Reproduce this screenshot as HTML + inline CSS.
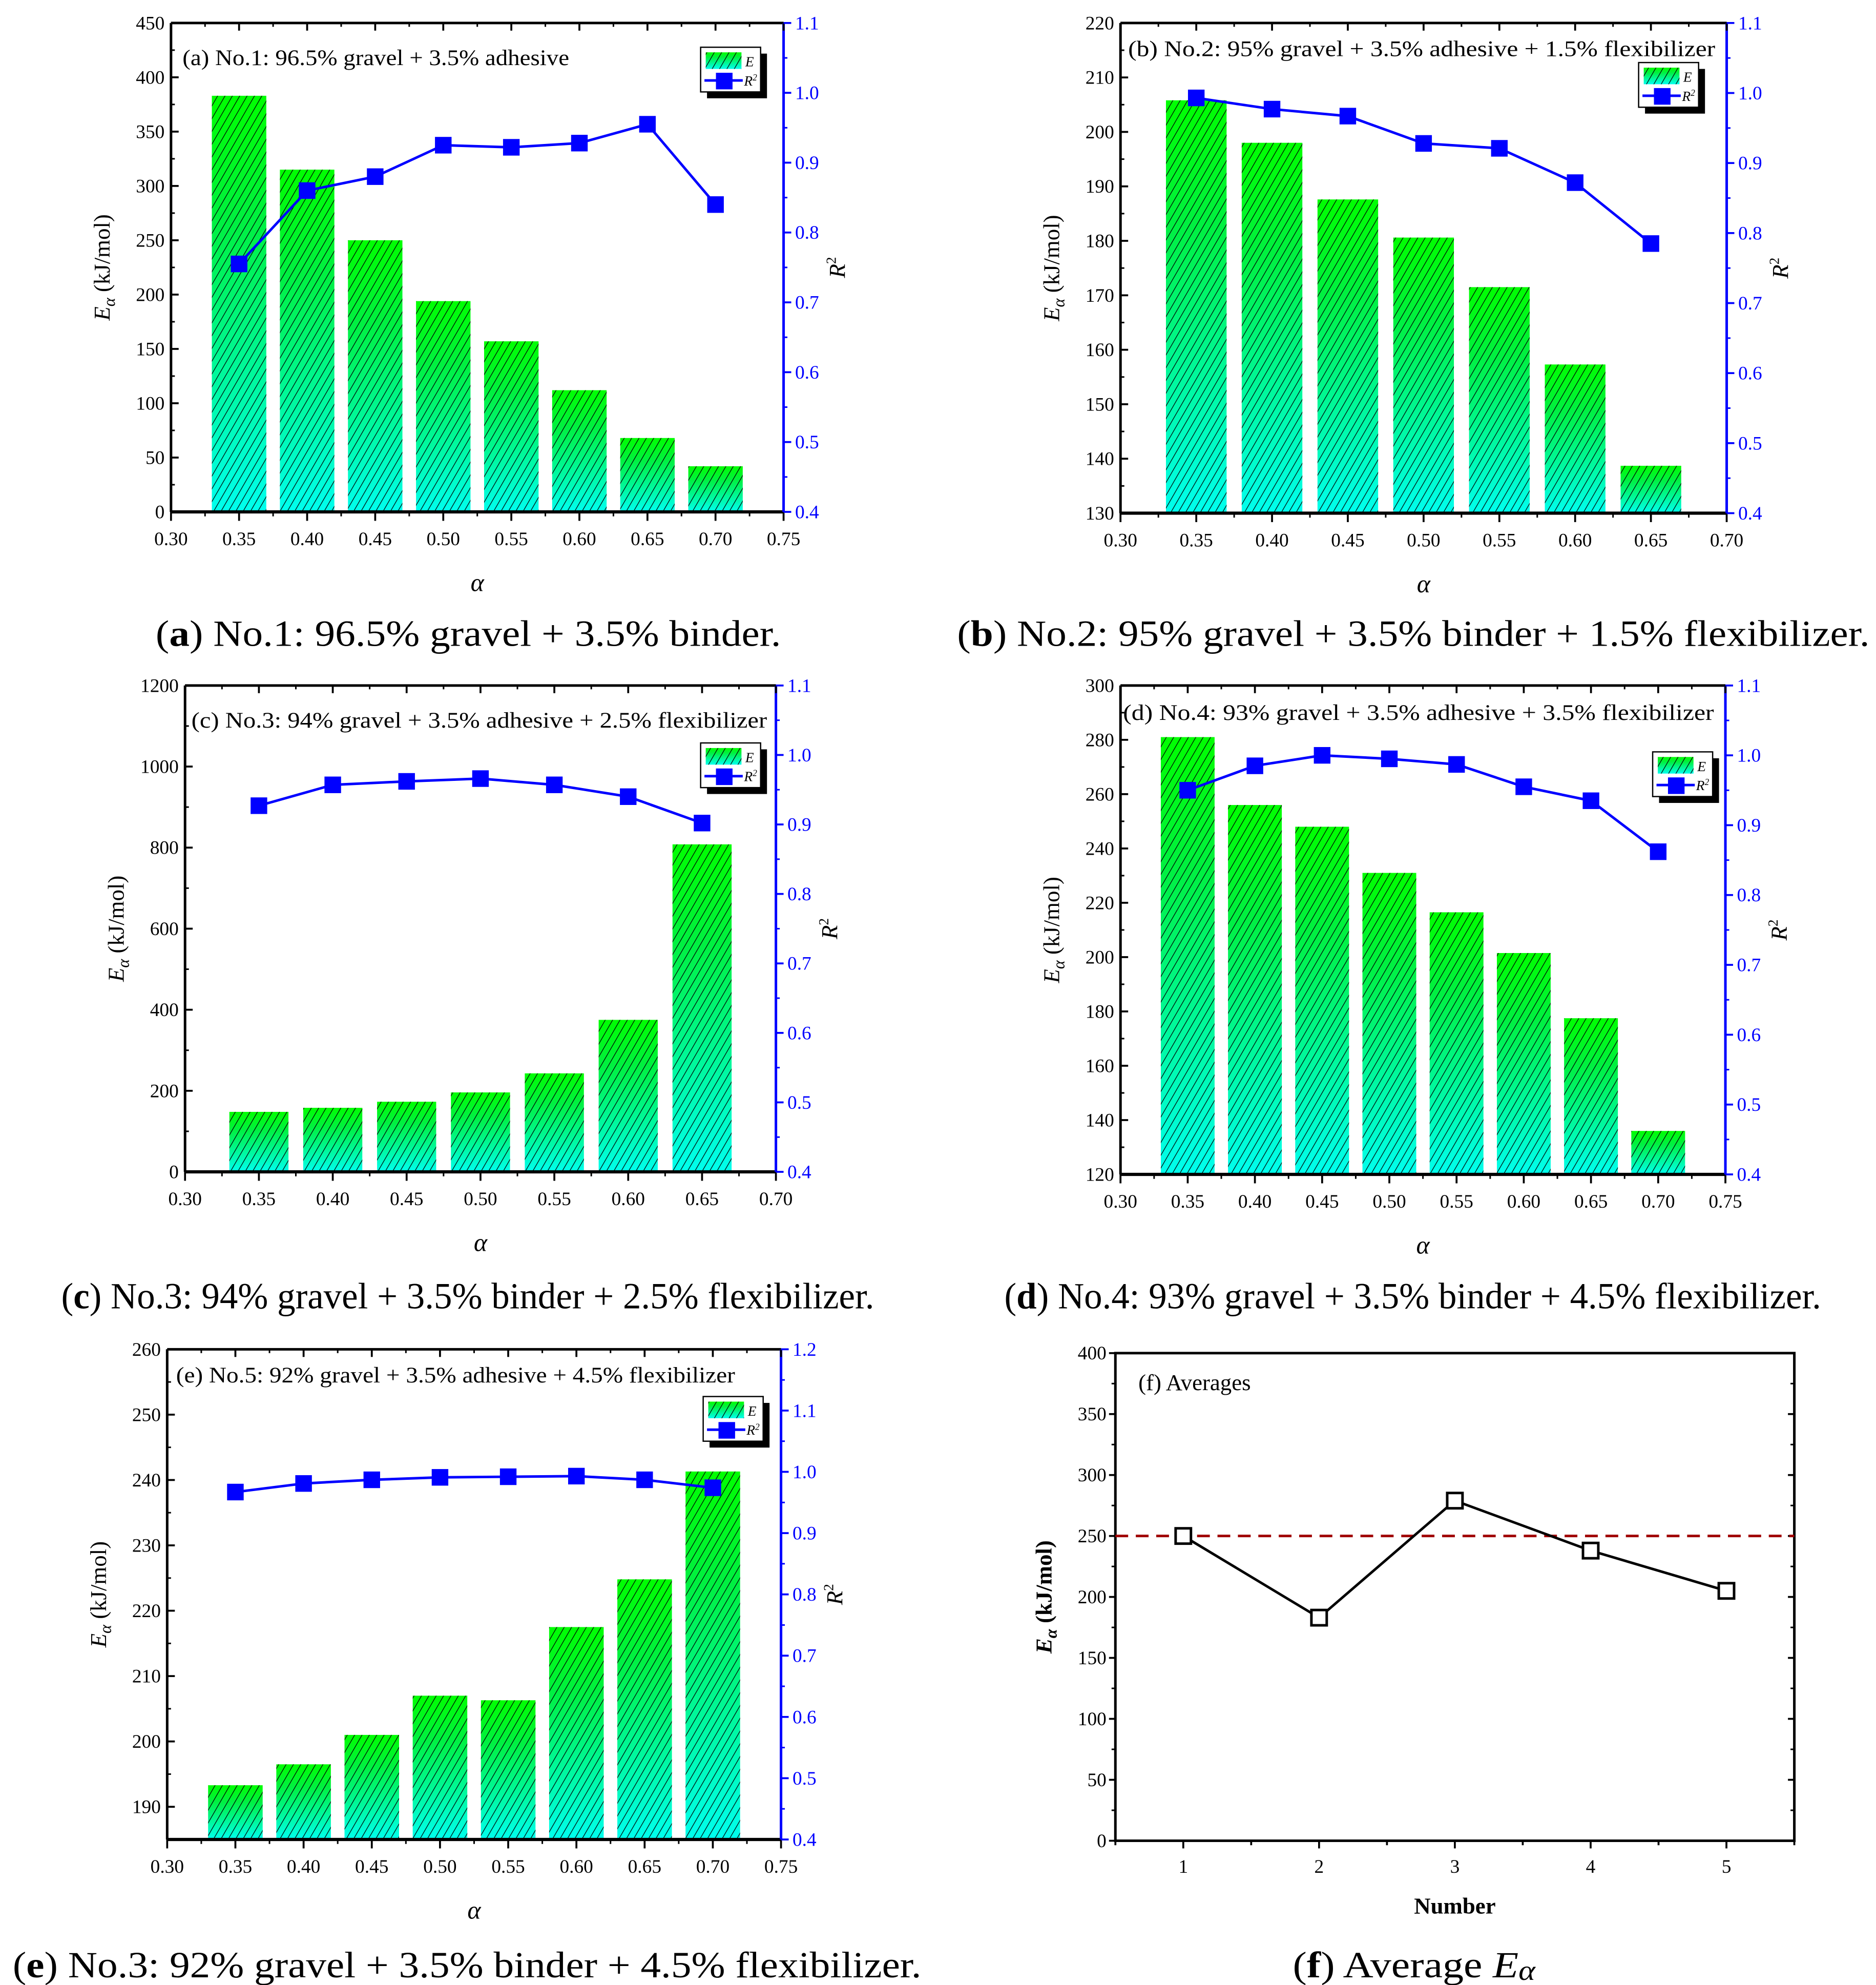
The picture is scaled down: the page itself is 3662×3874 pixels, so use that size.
<!DOCTYPE html>
<html><head><meta charset="utf-8"><style>
html,body{margin:0;padding:0;background:#fff}
svg{display:block}
text{font-family:"Liberation Serif",serif}
</style></head><body>
<svg id="fig" xmlns="http://www.w3.org/2000/svg" width="3662" height="3874" viewBox="0 0 1470 1555" preserveAspectRatio="none">
<defs>
<linearGradient id="bargrad" x1="0" y1="0" x2="0" y2="1">
<stop offset="0" stop-color="#00ff00"/><stop offset="0.3" stop-color="#00f040"/><stop offset="1" stop-color="#00ffee"/>
</linearGradient>
<pattern id="hatch" patternUnits="userSpaceOnUse" width="5" height="5" patternTransform="rotate(30)">
<line x1="0" y1="0" x2="0" y2="5" stroke="#000" stroke-width="1"/>
</pattern>
</defs>
</svg>
<script>
// ---- data ----
const alphaA=[0.35,0.40,0.45,0.50,0.55,0.60,0.65,0.70];
const eA=[383,315,250,194,157,112,68,42];
const r2A=[0.755,0.86,0.88,0.925,0.922,0.928,0.955,0.84];
const alphaB=[0.35,0.40,0.45,0.50,0.55,0.60,0.65];
const eB=[205.8,198,187.6,180.6,171.5,157.3,138.7];
const r2B=[0.993,0.977,0.967,0.928,0.921,0.872,0.785];
const alphaC=[0.35,0.40,0.45,0.50,0.55,0.60,0.65];
const eC=[148,158,173,196,243,375,808];
const r2C=[0.927,0.957,0.962,0.966,0.957,0.94,0.902];
const alphaD=[0.35,0.40,0.45,0.50,0.55,0.60,0.65,0.70];
const eD=[281,256,248,231,216.5,201.5,177.5,136];
const r2D=[0.95,0.985,1.0,0.995,0.987,0.955,0.935,0.862];
const alphaE=[0.35,0.40,0.45,0.50,0.55,0.60,0.65,0.70];
const eE=[193.3,196.5,201,207,206.3,217.5,224.8,241.3];
const r2E=[0.967,0.981,0.987,0.991,0.992,0.993,0.987,0.974];
const numF=[1,2,3,4,5];
const avgF=[250,183,279,238,205];
const meanF=[250];

const svg=document.getElementById('fig');
const NS='http://www.w3.org/2000/svg';
function el(tag,attrs,parent){const e=document.createElementNS(NS,tag);for(const k in attrs)e.setAttribute(k,attrs[k]);(parent||svg).appendChild(e);return e;}
function txt(s,attrs,parent){const e=el('text',attrs,parent);e.textContent=s;return e;}
function fmt(v,d){return v.toFixed(d);}

function barPanel(o){
  const g=el('g',{});
  
  
  const X=v=>o.L+(v-o.x0)/(o.x1-o.x0)*(o.R-o.L);
  const Y=v=>o.B-(v-o.y0)/(o.y1-o.y0)*(o.B-o.T);
  const Y2=v=>o.B-(v-o.r0)/(o.r1-o.r0)*(o.B-o.T);
  o.xs.forEach((a,i)=>{
    const x=X(a-0.02),w=X(a+0.02)-X(a-0.02),y=Y(o.e[i]),h=o.B-y;
    const r=el('rect',{x:x,y:y,width:w,height:h,fill:'url(#bargrad)'},g);
    
    
    el('rect',{x:x,y:y,width:w,height:h,fill:'url(#hatch)'},g);
  });
  el('line',{x1:o.L,y1:o.T,x2:o.R,y2:o.T,stroke:'#000','stroke-width':2},g);
  el('line',{x1:o.L,y1:o.B,x2:o.R,y2:o.B,stroke:'#000','stroke-width':2.5},g);
  el('line',{x1:o.L,y1:o.T,x2:o.L,y2:o.B,stroke:'#000','stroke-width':2},g);
  el('line',{x1:o.R,y1:o.T,x2:o.R,y2:o.B,stroke:'#00f','stroke-width':2},g);
  for(let v=o.x0;v<=o.x1+1e-9;v+=0.05){
    const x=X(v);
    el('line',{x1:x,y1:o.B,x2:x,y2:o.B+7,stroke:'#000','stroke-width':1.5},g);
    el('line',{x1:x,y1:o.T,x2:x,y2:o.T+6,stroke:'#000','stroke-width':1.5},g);
    if(v+0.025<o.x1){const xm=X(v+0.025);
      el('line',{x1:xm,y1:o.B,x2:xm,y2:o.B+3.5,stroke:'#000','stroke-width':1.2},g);
      el('line',{x1:xm,y1:o.T,x2:xm,y2:o.T+3,stroke:'#000','stroke-width':1.2},g);}
    txt(fmt(v,2),{x:x,y:o.B+26,'font-size':15,'text-anchor':'middle'},g);
  }
  for(let v=o.y0t;v<=o.y1+1e-9;v+=o.ys){
    const y=Y(v);
    el('line',{x1:o.L,y1:y,x2:o.L+6,y2:y,stroke:'#000','stroke-width':1.5},g);
    if(v+o.ys/2<o.y1){const ym=Y(v+o.ys/2);el('line',{x1:o.L,y1:ym,x2:o.L+3,y2:ym,stroke:'#000','stroke-width':1.2},g);}
    txt(String(Math.round(v)),{x:o.L-5,y:y+5,'font-size':15,'text-anchor':'end'},g);
  }
  if(o.y0t>o.y0){const ym=Y(o.y0t-o.ys/2);if(ym<o.B)el('line',{x1:o.L,y1:ym,x2:o.L+3,y2:ym,stroke:'#000','stroke-width':1.2},g);}
  for(let v=o.r0;v<=o.r1+1e-9;v+=0.1){
    const y=Y2(v);
    el('line',{x1:o.R,y1:y,x2:o.R+6,y2:y,stroke:'#00f','stroke-width':1.5},g);
    if(v+0.05<o.r1){const ym=Y2(v+0.05);el('line',{x1:o.R,y1:ym,x2:o.R+3,y2:ym,stroke:'#00f','stroke-width':1.2},g);}
    txt(fmt(v,1),{x:o.R+9,y:y+5,'font-size':15,fill:'#00f'},g);
  }
  const pts=o.xs.map((a,i)=>X(a)+','+Y2(o.r2[i])).join(' ');
  const pl=el('polyline',{points:pts,fill:'none',stroke:'#00f','stroke-width':2},g);
  
  
  o.xs.forEach((a,i)=>{
    const m=el('rect',{x:X(a)-6.5,y:Y2(o.r2[i])-6.5,width:13,height:13,fill:'#00f'},g);
    
    
  });
  const t=txt(o.title,{x:o.tx,y:o.T+o.ty,'font-size':17.5,textLength:o.tw,lengthAdjust:'spacingAndGlyphs'},g);
  
  
  const yl=el('text',{x:0,y:0,'font-size':18,'text-anchor':'middle',transform:`translate(${o.L-48},${(o.T+o.B)/2}) rotate(-90)`},g);
  yl.innerHTML='<tspan font-style="italic">E</tspan><tspan font-style="italic" font-size="13" dy="4">α</tspan><tspan dy="-4"> (kJ/mol)</tspan>';
  
  
  const rl=el('text',{x:0,y:0,'font-size':18,'text-anchor':'middle',transform:`translate(${o.R+48},${(o.T+o.B)/2}) rotate(-90)`},g);
  rl.innerHTML='<tspan font-style="italic">R</tspan><tspan font-size="11" dy="-7">2</tspan>';
  
  
  const xl=txt('α',{x:(o.L+o.R)/2,y:o.B+62,'font-size':20,'font-style':'italic','text-anchor':'middle'},g);
  
  
  const lg=el('g',{},g);
  
  
  const lx=o.lx,ly=o.ly;
  el('rect',{x:lx+5,y:ly+5,width:47,height:35,fill:'#000'},lg);
  el('rect',{x:lx,y:ly,width:47,height:35,fill:'#fff',stroke:'#000','stroke-width':1},lg);
  el('rect',{x:lx+4,y:ly+4,width:28,height:13,fill:'url(#bargrad)'},lg);
  el('rect',{x:lx+4,y:ly+4,width:28,height:13,fill:'url(#hatch)'},lg);
  txt('E',{x:lx+35,y:ly+15,'font-size':11,'font-style':'italic'},lg);
  el('line',{x1:lx+3,y1:ly+26,x2:lx+33,y2:ly+26,stroke:'#00f','stroke-width':2},lg);
  el('rect',{x:lx+12,y:ly+20,width:13,height:13,fill:'#00f'},lg);
  const r2t=el('text',{x:lx+34,y:ly+30,'font-size':11,'font-style':'italic'},lg);
  r2t.innerHTML='R<tspan font-size="7" dy="-4">2</tspan>';
  const cp=el('text',{x:o.cx,y:o.cy,'font-size':29,textLength:o.cw,lengthAdjust:'spacingAndGlyphs'});
  cp.innerHTML='(<tspan font-weight="bold">'+o.cl+'</tspan>) '+o.cap;
  
  
}

barPanel({name:'panel-a',L:134,R:614,T:18,B:401,x0:0.30,x1:0.75,y0:0,y0t:0,y1:450,ys:50,r0:0.4,r1:1.1,xs:alphaA,e:eA,r2:r2A,
 title:'(a) No.1: 96.5% gravel + 3.5% adhesive',tx:143,ty:33,tw:303,lx:549,ly:37,cx:122,cw:490,cy:506,cl:'a',cap:'No.1: 96.5% gravel + 3.5% binder.'});
barPanel({name:'panel-b',L:878,R:1353,T:18,B:402,x0:0.30,x1:0.70,y0:130,y0t:130,y1:220,ys:10,r0:0.4,r1:1.1,xs:alphaB,e:eB,r2:r2B,
 title:'(b) No.2: 95% gravel + 3.5% adhesive + 1.5% flexibilizer',tx:884,ty:26,tw:460,lx:1284,ly:49,cx:750,cw:715,cy:506,cl:'b',cap:'No.2: 95% gravel + 3.5% binder + 1.5% flexibilizer.'});
barPanel({name:'panel-c',L:145,R:608,T:537,B:918,x0:0.30,x1:0.70,y0:0,y0t:0,y1:1200,ys:200,r0:0.4,r1:1.1,xs:alphaC,e:eC,r2:r2C,
 title:'(c) No.3: 94% gravel + 3.5% adhesive + 2.5% flexibilizer',tx:150,ty:33,tw:451,lx:549,ly:582,cx:48,cw:637,cy:1025,cl:'c',cap:'No.3: 94% gravel + 3.5% binder + 2.5% flexibilizer.'});
barPanel({name:'panel-d',L:878,R:1352,T:537,B:920,x0:0.30,x1:0.75,y0:120,y0t:120,y1:300,ys:20,r0:0.4,r1:1.1,xs:alphaD,e:eD,r2:r2D,
 title:'(d) No.4: 93% gravel + 3.5% adhesive + 3.5% flexibilizer',tx:880,ty:27,tw:463,lx:1295,ly:589,cx:787,cw:640,cy:1025,cl:'d',cap:'No.4: 93% gravel + 3.5% binder + 4.5% flexibilizer.'});
barPanel({name:'panel-e',L:131,R:612,T:1057,B:1441,x0:0.30,x1:0.75,y0:185,y0t:190,y1:260,ys:10,r0:0.4,r1:1.2,xs:alphaE,e:eE,r2:r2E,
 title:'(e) No.5: 92% gravel + 3.5% adhesive + 4.5% flexibilizer',tx:138,ty:26,tw:438,lx:551,ly:1094,cx:10,cw:712,cy:1549,cl:'e',cap:'No.3: 92% gravel + 3.5% binder + 4.5% flexibilizer.'});

(function(){
  const L=874,R=1406,T=1060,B=1442,x0=0.5,x1=5.5,y0=0,y1=400;
  const g=el('g',{});
  
  
  const X=v=>L+(v-x0)/(x1-x0)*(R-L);
  const Y=v=>B-(v-y0)/(y1-y0)*(B-T);
  el('rect',{x:L,y:T,width:R-L,height:B-T,fill:'none',stroke:'#000','stroke-width':2},g);
  for(let v=0;v<=400;v+=50){const y=Y(v);
    el('line',{x1:L-5,y1:y,x2:L,y2:y,stroke:'#000','stroke-width':1.5},g);
    el('line',{x1:R-5,y1:y,x2:R,y2:y,stroke:'#000','stroke-width':1.5},g);
    if(v<400){const ym=Y(v+25);el('line',{x1:L-3,y1:ym,x2:L,y2:ym,stroke:'#000','stroke-width':1.2},g);el('line',{x1:R-3,y1:ym,x2:R,y2:ym,stroke:'#000','stroke-width':1.2},g);}
    txt(String(v),{x:L-7,y:y+5,'font-size':15,'text-anchor':'end'},g);}
  for(let v=0.5;v<=5.5;v+=0.5){const x=X(v);const maj=Math.abs(v-Math.round(v))<1e-9;
    el('line',{x1:x,y1:B,x2:x,y2:B+(maj?6:3.5),stroke:'#000','stroke-width':1.5},g);
    if(maj)txt(String(v),{x:x,y:B+25,'font-size':15,'text-anchor':'middle'},g);}
  const dl=el('line',{x1:L,y1:Y(meanF[0]),x2:R,y2:Y(meanF[0]),stroke:'#a00000','stroke-width':2,'stroke-dasharray':'10 6'},g);
  
  
  const pl=el('polyline',{points:numF.map((n,i)=>X(n)+','+Y(avgF[i])).join(' '),fill:'none',stroke:'#000','stroke-width':2},g);
  
  
  numF.forEach((n,i)=>{const m=el('rect',{x:X(n)-6,y:Y(avgF[i])-6,width:12,height:12,fill:'#fff',stroke:'#000','stroke-width':2},g);
    
    });
  const t=txt('(f) Averages',{x:L+18,y:T+29,'font-size':18},g);
  
  
  const yl=el('text',{x:0,y:0,'font-size':18,'font-weight':'bold','text-anchor':'middle',transform:`translate(${L-50},${(T+B)/2}) rotate(-90)`},g);
  yl.innerHTML='<tspan font-style="italic">E</tspan><tspan font-style="italic" font-size="13" dy="4">α</tspan><tspan dy="-4"> (kJ/mol)</tspan>';
  
  
  const xl=txt('Number',{x:(L+R)/2,y:B+57,'font-size':18,'font-weight':'bold','text-anchor':'middle'},g);
  
  
  const cp=el('text',{x:1013,y:1549,'font-size':29,textLength:190,lengthAdjust:'spacingAndGlyphs'});
  cp.innerHTML='(<tspan font-weight="bold">f</tspan>) Average <tspan font-style="italic">E</tspan><tspan font-style="italic" font-size="22" dy="2">α</tspan>';
  
  
})();
</script>
</body></html>
